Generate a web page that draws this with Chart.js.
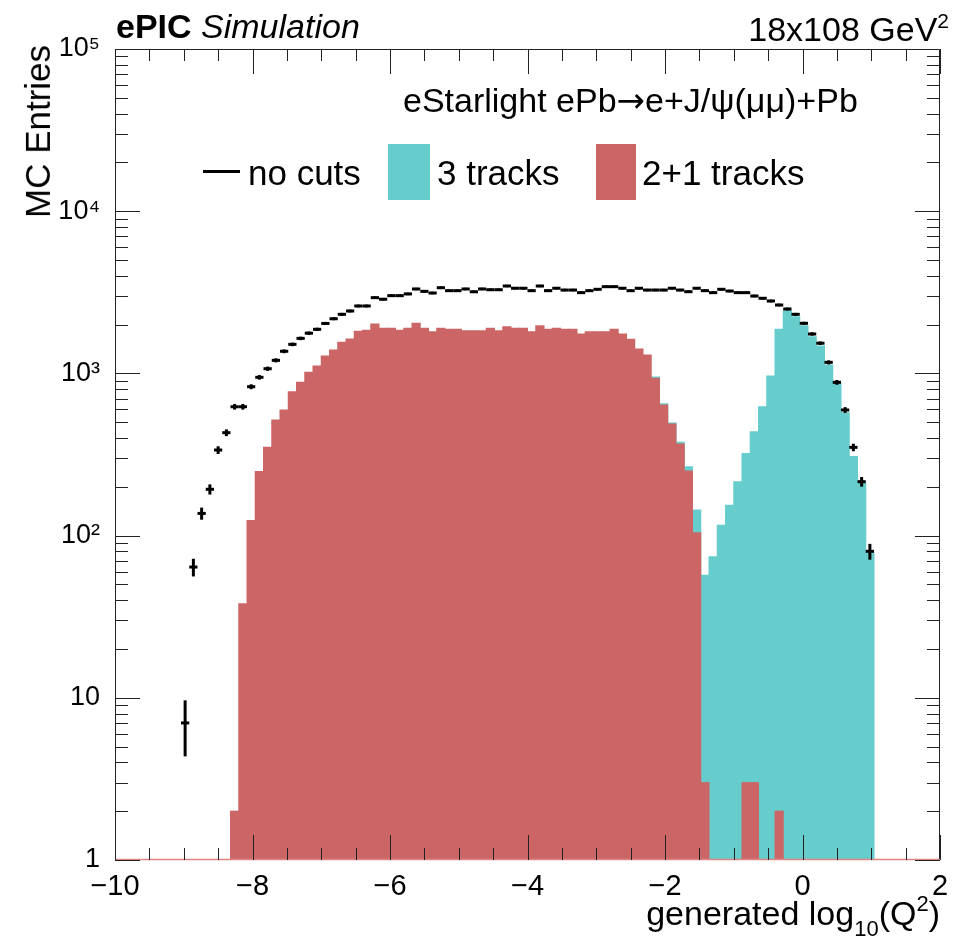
<!DOCTYPE html>
<html>
<head>
<meta charset="utf-8">
<script src="https://cdn.jsdelivr.net/npm/chart.js@4.4.0/dist/chart.umd.min.js"></script>
<style>
  html, body { margin: 0; padding: 0; background: #fff; }
  body { width: 953px; height: 940px; position: relative; overflow: hidden; font-family: "Liberation Sans", Arial, sans-serif; color: #000; }
  #wrap { position: absolute; left: 0; top: 0; width: 953px; height: 940px; }
  .lbl { position: absolute; white-space: nowrap; line-height: 1; }
  .box { position: absolute; }
  .arr { font-family: "DejaVu Sans", sans-serif; }
</style>
</head>
<body>
<div id="wrap"><canvas id="q2Chart" width="953" height="940"></canvas></div>

<div class="lbl" style="left:116px; top:9px; font-size:34px;"><b>ePIC</b> <i>Simulation</i></div>
<div class="lbl" style="right:4px; top:10px; font-size:34px;">18x108 GeV<sup style="font-size:21px; vertical-align:13px;">2</sup></div>
<div class="lbl" style="left:20px; top:45px; font-size:35px; writing-mode:vertical-rl; transform:rotate(180deg);">MC Entries</div>
<div class="lbl" style="right:13px; top:893px; font-size:34px;">generated log<sub style="font-size:22px; vertical-align:-11px;">10</sub>(Q<sup style="font-size:22px; vertical-align:14px;">2</sup>)</div>

<div class="lbl" style="left:403px; top:83px; font-size:34px;">eStarlight ePb<span class="arr">→</span>e+J/ψ(μμ)+Pb</div>

<div class="box" style="left:203px; top:170px; width:37px; height:3px; background:#000;"></div>
<div class="lbl" style="left:248px; top:155px; font-size:35px;">no cuts</div>
<div class="box" style="left:388px; top:144px; width:42px; height:56px; background:#66cccc;"></div>
<div class="lbl" style="left:437px; top:155px; font-size:35px;">3 tracks</div>
<div class="box" style="left:596px; top:144px; width:40px; height:56px; background:#cc6666;"></div>
<div class="lbl" style="left:642px; top:155px; font-size:35px;">2+1 tracks</div>

<script>
// histogram binning: 100 bins from -10 to 2
const xMin = -10;
const xMax = 2;
const nBins = 100;
const binWidth = (xMax - xMin) / nBins;

// no cuts, bins 8..91
const noCutsFirstBin = 8;
const noCuts = [
    7, 64, 137, 193, 337, 431, 623, 623, 828, 946,
    1069, 1204, 1369, 1510, 1644, 1770, 1870, 2032, 2173, 2313,
    2425, 2604, 2604, 2931, 2866, 3015, 3015, 3090, 3315, 3206,
    3131, 3375, 3236, 3236, 3315, 3186, 3315, 3280, 3280, 3458,
    3350, 3350, 3236, 3458, 3236, 3350, 3265, 3265, 3147, 3236,
    3300, 3425, 3425, 3350, 3236, 3350, 3265, 3265, 3265, 3350,
    3265, 3190, 3350, 3236, 3147, 3300, 3220, 3147, 3147, 3000,
    2905, 2795, 2640, 2495, 2313, 2036, 1750, 1535, 1170, 881,
    595, 350, 215, 80
];

// 2+1 tracks, bins 14..80
const twoPlusOneFirstBin = 14;
const twoPlusOne = [
    2, 38, 124, 248, 350, 516, 595, 771, 881, 1015,
    1111, 1280, 1393, 1555, 1630, 1817, 1843, 2017, 1897, 1897,
    1843, 1897, 2036, 1897, 1807, 1897, 1870, 1870, 1834, 1834,
    1834, 1897, 1834, 1941, 1897, 1897, 1807, 1968, 1870, 1897,
    1870, 1870, 1750, 1807, 1807, 1807, 1870, 1750, 1623, 1414,
    1298, 933, 638, 488, 367, 250, 104, 3, 0, 0,
    0, 0, 3, 3, 0, 0, 2
];

// 3 tracks, bins 65..91
const threeTracksFirstBin = 65;
const threeTracks = [
    950, 650, 495, 376, 266, 144, 57, 74, 116, 154,
    215, 321, 437, 623, 964, 1870, 2437, 2238, 1968, 1684,
    1476, 1127, 869, 572, 307, 211, 78
];

const redColor = '#cc6666';
const tealColor = '#66cccc';

function toPoints(values, firstBin) {
    const pts = [];
    values.forEach(function(v, i) {
        if (v > 0) {
            pts.push({ x: xMin + (firstBin + i + 0.5) * binWidth, y: v });
        }
    });
    return pts;
}

const supDigits = { 2: '²', 3: '³', 4: '⁴', 5: '⁵' };

// ROOT-like frame, inward ticks, and vertical error bars for "no cuts"
const rootFrame = {
    id: 'rootFrame',
    afterDatasetsDraw(chart) {
        const ctx = chart.ctx;
        const a = chart.chartArea;
        const xs = chart.scales.x;
        const ys = chart.scales.y;
        ctx.save();

        // error bars sqrt(N)
        ctx.strokeStyle = '#000';
        ctx.lineWidth = 3;
        const meta = chart.getDatasetMeta(0);
        meta.data.forEach(function(pt, i) {
            const v = chart.data.datasets[0].data[i].y;
            const e = Math.sqrt(v);
            const y0 = ys.getPixelForValue(Math.max(v - e, 1));
            const y1 = ys.getPixelForValue(v + e);
            ctx.beginPath();
            ctx.moveTo(pt.x, y0);
            ctx.lineTo(pt.x, y1);
            ctx.stroke();
        });

        // frame
        ctx.lineWidth = 1;
        ctx.strokeStyle = '#222';
        ctx.beginPath();
        ctx.moveTo(a.left + 0.5, a.bottom);
        ctx.lineTo(a.left + 0.5, a.top + 0.5);
        ctx.lineTo(a.right - 0.5, a.top + 0.5);
        ctx.lineTo(a.right - 0.5, a.bottom);
        ctx.stroke();
        ctx.strokeStyle = '#e08484';
        ctx.lineWidth = 1.5;
        ctx.beginPath();
        ctx.moveTo(a.left, a.bottom - 0.5);
        ctx.lineTo(a.right, a.bottom - 0.5);
        ctx.stroke();

        // x ticks
        ctx.strokeStyle = '#222';
        ctx.lineWidth = 1;
        for (let k = 0; k <= 24; k++) {
            const v = xMin + k * 0.5;
            const px = Math.round(xs.getPixelForValue(v)) + 0.5;
            const len = (k % 4 === 0) ? 25 : 12;
            ctx.beginPath();
            ctx.moveTo(px, a.bottom);
            ctx.lineTo(px, a.bottom - len);
            ctx.moveTo(px, a.top);
            ctx.lineTo(px, a.top + len);
            ctx.stroke();
        }
        // y ticks
        for (let d = 0; d < 5; d++) {
            for (let m = 1; m <= 9; m++) {
                const v = m * Math.pow(10, d);
                const py = Math.round(ys.getPixelForValue(v)) + 0.5;
                const len = (m === 1) ? 25 : 13;
                ctx.beginPath();
                ctx.moveTo(a.left, py);
                ctx.lineTo(a.left + len, py);
                ctx.moveTo(a.right, py);
                ctx.lineTo(a.right - len, py);
                ctx.stroke();
            }
        }
        ctx.restore();
    }
};

document.addEventListener('DOMContentLoaded', function() {
    const ctx = document.getElementById('q2Chart').getContext('2d');
    new Chart(ctx, {
        type: 'bar',
        data: {
            datasets: [{
                type: 'scatter',
                label: 'no cuts',
                data: toPoints(noCuts, noCutsFirstBin),
                pointStyle: 'line',
                pointRadius: function(c) {
                    const s = c.chart.scales.x;
                    return Math.abs(s.getPixelForValue(binWidth) - s.getPixelForValue(0)) / 2;
                },
                pointHoverRadius: 4,
                borderColor: '#000',
                borderWidth: 3,
                showLine: false
            }, {
                label: '2+1 tracks',
                data: toPoints(twoPlusOne, twoPlusOneFirstBin),
                backgroundColor: redColor,
                borderWidth: 0,
                inflateAmount: 0.5
            }, {
                label: '3 tracks',
                data: toPoints(threeTracks, threeTracksFirstBin),
                backgroundColor: tealColor,
                borderWidth: 0,
                inflateAmount: 0.5
            }]
        },
        options: {
            responsive: false,
            animation: false,
            devicePixelRatio: 1,
            grouped: false,
            barPercentage: 1,
            categoryPercentage: 1,
            layout: { padding: { left: 0, right: 13, top: 49, bottom: 0 } },
            plugins: {
                legend: { display: false },
                tooltip: { enabled: false }
            },
            scales: {
                x: {
                    type: 'linear',
                    min: xMin,
                    max: xMax,
                    offset: false,
                    afterFit: function(s) { s.height = 80; },
                    grid: { display: false, offset: false },
                    border: { display: false },
                    ticks: {
                        stepSize: 2,
                        padding: 2,
                        color: '#000',
                        font: { family: '"Liberation Sans", "DejaVu Sans", sans-serif', size: 29 },
                        callback: function(v) { return v < 0 ? '\u2212' + Math.abs(v) : String(v); }
                    }
                },
                y: {
                    type: 'logarithmic',
                    min: 1,
                    max: 100000,
                    afterFit: function(s) { s.width = 115; },
                    grid: { display: false },
                    border: { display: false },
                    ticks: {
                        autoSkip: false,
                        padding: 7,
                        color: '#000',
                        font: { family: '"Liberation Sans", "DejaVu Sans", sans-serif', size: 27 },
                        callback: function(v) {
                            const e = Math.round(Math.log10(v));
                            if (Math.abs(v - Math.pow(10, e)) > 1e-6) return '';
                            if (e === 0) return '1';
                            if (e === 1) return '10';
                            return '10' + supDigits[e];
                        }
                    }
                }
            }
        },
        plugins: [rootFrame]
    });
});
</script>
</body>
</html>
